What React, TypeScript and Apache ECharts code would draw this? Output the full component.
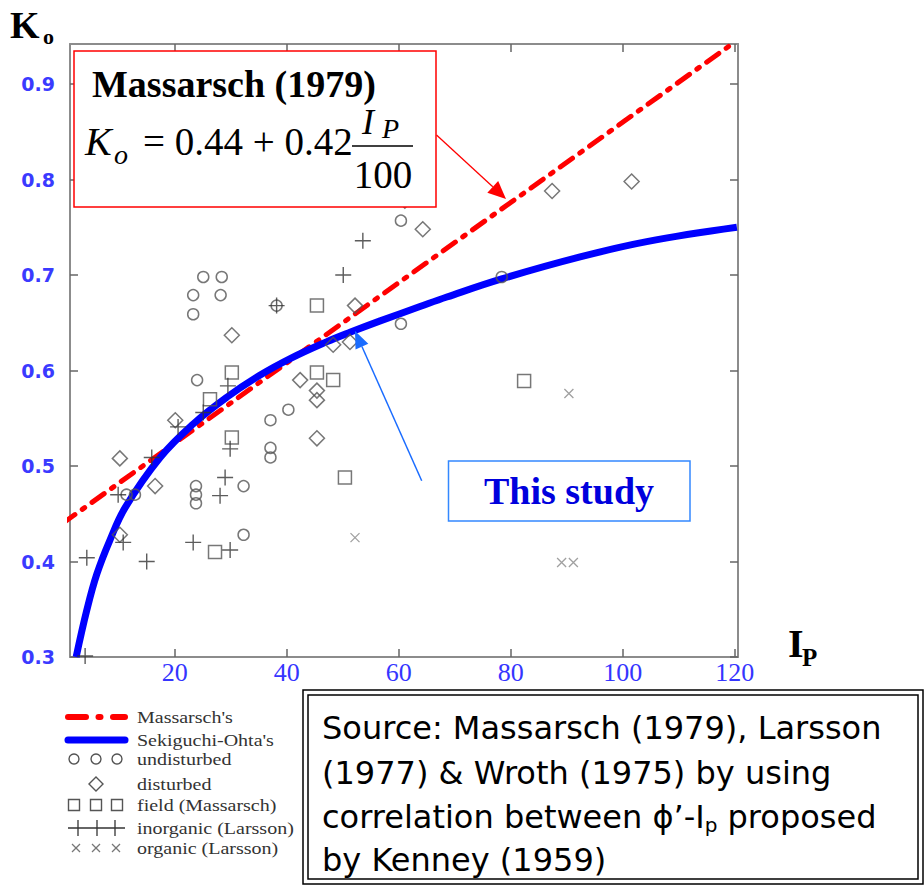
import React, { useEffect, useRef } from "react";
import * as echarts from "echarts";

// ---------- data (Ip, Ko) ----------
const xTicks = [20, 40, 60, 80, 100, 120];
const yTicks = [0.3, 0.4, 0.5, 0.6, 0.7, 0.8, 0.9];

// Massarsch (1979): Ko = 0.44 + 0.42 Ip/100 (straight line, two ends)
const massarsch = [
  [0, 0.44],
  [120, 0.944],
];

// Sekiguchi-Ohta curve ("This study")
const sekiguchiOhta = [
  [2.4, 0.3], [4.3, 0.349], [6.1, 0.387], [8.4, 0.422], [11.2, 0.457],
  [17.4, 0.509], [23.3, 0.544], [29.3, 0.572], [35.2, 0.595], [40.8, 0.613],
  [47.1, 0.63], [51.3, 0.64], [56.7, 0.652], [63.8, 0.667], [68.6, 0.677],
  [78.4, 0.696], [92.4, 0.719], [104.3, 0.735], [120.4, 0.75],
];

const undisturbed = [
  [25.1, 0.698], [28.4, 0.698], [23.3, 0.679], [28.2, 0.679], [23.3, 0.659],
  [38.2, 0.668], [60.4, 0.757], [60.4, 0.649], [78.4, 0.698], [24.0, 0.59],
  [40.3, 0.559], [37.1, 0.548], [37.1, 0.519], [37.1, 0.509], [23.8, 0.479],
  [23.8, 0.47], [23.8, 0.461], [32.3, 0.479], [32.3, 0.428], [11.4, 0.47],
  [12.9, 0.47],
];

const disturbed = [
  [30.2, 0.637], [52.2, 0.668], [48.3, 0.627], [51.3, 0.63], [61.1, 0.778],
  [64.3, 0.748], [87.4, 0.788], [101.6, 0.798], [42.4, 0.59], [45.4, 0.579],
  [45.4, 0.569], [45.4, 0.529], [20.1, 0.548], [10.2, 0.508], [16.5, 0.479],
  [10.2, 0.428],
];

const fieldMassarsch = [
  [45.4, 0.668], [30.2, 0.598], [26.3, 0.57], [30.2, 0.53], [45.4, 0.598],
  [48.3, 0.59], [50.4, 0.488], [27.2, 0.41], [82.4, 0.589],
];

const inorganicLarsson = [
  [53.6, 0.736], [50.1, 0.7], [38.2, 0.668], [29.5, 0.584], [25.1, 0.556],
  [20.6, 0.541], [15.9, 0.509], [29.9, 0.518], [29.0, 0.488], [28.1, 0.469],
  [9.9, 0.47], [10.8, 0.42], [23.3, 0.42], [29.9, 0.412], [4.3, 0.404],
  [15.0, 0.4], [4.0, 0.301],
];

const organicLarsson = [
  [52.2, 0.425], [90.4, 0.576], [89.1, 0.399], [91.2, 0.399],
];

const legendLabels = [
  "Massarsch's",
  "Sekiguchi-Ohta's",
  "undisturbed",
  "disturbed",
  "field (Massarsch)",
  "inorganic (Larsson)",
  "organic (Larsson)",
];

const sourceLines = [
  "Source: Massarsch (1979), Larsson",
  "(1977) & Wroth (1975) by using",
  "correlation between ϕ’-I{sub|p} proposed",
  "by Kenney (1959)",
];

// ---------- styling ----------
const SERIF = "'Liberation Serif', 'Times New Roman', serif";
const SANS = "'DejaVu Sans', Verdana, sans-serif";
const MARK = "#555";
const AXIS = "#8c8c8c";

function arrow(x1: number, y1: number, x2: number, y2: number, color: string, w: number, hl: number, hw: number) {
  const dx = x2 - x1, dy = y2 - y1;
  const L = Math.sqrt(dx * dx + dy * dy);
  const ux = dx / L, uy = dy / L;
  const bx = x2 - ux * hl, by = y2 - uy * hl;
  const px = -uy, py = ux;
  return [
    { type: "line", z: 100, shape: { x1, y1, x2: bx, y2: by }, style: { stroke: color, lineWidth: w } },
    {
      type: "polygon", z: 100,
      shape: { points: [[x2, y2], [bx + px * hw, by + py * hw], [bx - px * hw, by - py * hw]] },
      style: { fill: color },
    },
  ];
}

function txt(x: number, y: number, text: string, size: number, opts: any = {}) {
  const { weight, style, color, family, align, scaleX, rich } = opts;
  return {
    type: "text", z: 101, x, y, scaleX: scaleX || 1,
    style: {
      text, fontSize: size, fontFamily: family || SERIF, fontWeight: weight || "normal",
      fontStyle: style || "normal", fill: color || "#000", align: align || "left",
      verticalAlign: "middle", rich,
    },
  };
}

function legendGraphics() {
  const g: any[] = [];
  const ys = [717, 740, 759, 784, 805, 828, 848];
  const xs = [74, 96, 117];
  // Massarsch dash-dot
  g.push({ type: "line", z: 100, shape: { x1: 68, y1: ys[0], x2: 86, y2: ys[0] }, style: { stroke: "#ff0000", lineWidth: 6, lineCap: "round" } });
  g.push({ type: "line", z: 100, shape: { x1: 98.5, y1: ys[0], x2: 100.5, y2: ys[0] }, style: { stroke: "#ff0000", lineWidth: 6, lineCap: "round" } });
  g.push({ type: "line", z: 100, shape: { x1: 113, y1: ys[0], x2: 125, y2: ys[0] }, style: { stroke: "#ff0000", lineWidth: 6, lineCap: "round" } });
  // Sekiguchi-Ohta
  g.push({ type: "line", z: 100, shape: { x1: 68, y1: ys[1], x2: 125, y2: ys[1] }, style: { stroke: "#0000ff", lineWidth: 7, lineCap: "round" } });
  // circles
  xs.forEach((x) => g.push({ type: "circle", z: 100, shape: { cx: x, cy: ys[2], r: 5 }, style: { fill: "none", stroke: MARK, lineWidth: 1.4 } }));
  // diamond
  g.push({ type: "polygon", z: 100, shape: { points: [[96, ys[3] - 7], [103, ys[3]], [96, ys[3] + 7], [89, ys[3]]] }, style: { fill: "none", stroke: MARK, lineWidth: 1.4 } });
  // squares
  xs.forEach((x) => g.push({ type: "rect", z: 100, shape: { x: x - 5.5, y: ys[4] - 5.5, width: 11, height: 11 }, style: { fill: "none", stroke: MARK, lineWidth: 1.4 } }));
  // plus
  g.push({ type: "line", z: 100, shape: { x1: 68, y1: ys[5], x2: 125, y2: ys[5] }, style: { stroke: "#333", lineWidth: 1.3 } });
  [78, 97, 115].forEach((x) => g.push({ type: "line", z: 100, shape: { x1: x, y1: ys[5] - 8, x2: x, y2: ys[5] + 8 }, style: { stroke: "#333", lineWidth: 1.3 } }));
  // cross
  [76, 96, 116].forEach((x) => {
    g.push({ type: "line", z: 100, shape: { x1: x - 4, y1: ys[6] - 4, x2: x + 4, y2: ys[6] + 4 }, style: { stroke: "#777", lineWidth: 1.2 } });
    g.push({ type: "line", z: 100, shape: { x1: x + 4, y1: ys[6] - 4, x2: x - 4, y2: ys[6] + 4 }, style: { stroke: "#777", lineWidth: 1.2 } });
  });
  legendLabels.forEach((t, i) => g.push(txt(137, ys[i] + 1, t, 16, { color: "#333", scaleX: 1.25 })));
  return g;
}

function sourceGraphics() {
  const g: any[] = [];
  g.push({ type: "rect", z: 100, shape: { x: 303, y: 690, width: 620, height: 194 }, style: { fill: "#fff", stroke: "#000", lineWidth: 1.5 } });
  g.push({ type: "rect", z: 100, shape: { x: 308, y: 695, width: 610, height: 184 }, style: { fill: "none", stroke: "#000", lineWidth: 1.5 } });
  const ys = [728, 773, 817, 860];
  sourceLines.forEach((t, i) =>
    g.push(txt(322, ys[i], t, 32, { family: SANS, rich: { sub: { fontSize: 20, fontFamily: SANS, padding: [16, 0, 0, 0] } } }))
  );
  return g;
}

function annotationGraphics() {
  const g: any[] = [];
  // axis titles
  g.push(txt(10, 25, "K", 38, { weight: "bold" }));
  g.push(txt(43, 36, "o", 22, { weight: "bold" }));
  g.push(txt(788, 643, "I", 40, { weight: "bold" }));
  g.push(txt(802, 657, "P", 25, { weight: "bold" }));
  // Massarsch box
  g.push({ type: "rect", z: 100, shape: { x: 74, y: 51, width: 362, height: 156 }, style: { fill: "#fff", stroke: "#ff0000", lineWidth: 1.5 } });
  g.push(txt(92, 84, "Massarsch (1979)", 38, { weight: "bold" }));
  g.push(txt(85, 141, "K", 40, { style: "italic" }));
  g.push(txt(114, 154, "o", 28, { style: "italic" }));
  g.push(txt(143, 141, "= 0.44 + 0.42", 39));
  g.push(txt(362, 122, "I", 36, { style: "italic" }));
  g.push(txt(382, 128, "P", 28, { style: "italic" }));
  g.push({ type: "line", z: 100, shape: { x1: 352, y1: 146, x2: 413, y2: 146 }, style: { stroke: "#000", lineWidth: 1.5 } });
  g.push(txt(383, 174, "100", 39, { align: "center" }));
  g.push(...arrow(436.5, 135, 506, 199, "#ff0000", 1.3, 18, 8));
  // This study box
  g.push({ type: "rect", z: 100, shape: { x: 448.5, y: 461, width: 241.5, height: 60 }, style: { fill: "#fff", stroke: "#3388ff", lineWidth: 1.5 } });
  g.push(txt(569, 491, "This study", 38, { weight: "bold", color: "#0000dd", align: "center" }));
  g.push(...arrow(421.7, 480.7, 355, 331, "#1a6cff", 1.5, 17, 7));
  return g;
}

export default function App() {
  const ref = useRef<HTMLDivElement>(null);
  useEffect(() => {
    document.body.style.margin = "0";
    const chart = echarts.init(ref.current!, null, { renderer: "svg" });
    const xMin = 1.3, xMax = 120.6, yMin = 0.3, yMax = 0.942;
    const axisLine = { show: true, onZero: false, lineStyle: { color: AXIS, width: 2 } };
    const scatter = (data: number[][], symbol: string, size: any, color: string, bw: number) => ({
      type: "scatter", data, symbol, symbolSize: size, silent: true, z: 4,
      itemStyle: { color: "transparent", borderColor: color, borderWidth: bw },
    });
    chart.setOption({
      animation: false,
      backgroundColor: "#fff",
      grid: { left: 70, top: 44, width: 668, height: 613 },
      xAxis: [
        {
          type: "value", min: xMin, max: xMax, position: "bottom", axisLine,
          axisTick: { show: true, inside: true, length: 8, customValues: xTicks, lineStyle: { color: "#666", width: 1.5 } },
          axisLabel: { customValues: xTicks, color: "#3535ff", fontFamily: SERIF, fontSize: 26, margin: 2 },
          splitLine: { show: false },
        },
        {
          type: "value", min: xMin, max: xMax, position: "top", axisLine,
          axisTick: { show: true, inside: true, length: 8, customValues: xTicks, lineStyle: { color: "#666", width: 1.5 } },
          axisLabel: { show: false }, splitLine: { show: false },
        },
      ],
      yAxis: [
        {
          type: "value", min: yMin, max: yMax, position: "left", axisLine,
          axisTick: { show: true, inside: true, length: 8, customValues: yTicks, lineStyle: { color: "#666", width: 1.5 } },
          axisLabel: {
            customValues: yTicks, color: "#3a3aff", fontFamily: SANS, fontWeight: "bold", fontSize: 19, margin: 15,
            formatter: (v: number) => v.toFixed(1),
          },
          splitLine: { show: false },
        },
        {
          type: "value", min: yMin, max: yMax, position: "right", axisLine,
          axisTick: { show: true, inside: true, length: 8, customValues: yTicks, lineStyle: { color: "#666", width: 1.5 } },
          axisLabel: { show: false }, splitLine: { show: false },
        },
      ],
      series: [
        scatter(undisturbed, "circle", 11, MARK, 1.5),
        scatter(disturbed, "diamond", 15, MARK, 1.5),
        scatter(fieldMassarsch, "rect", 13, MARK, 1.5),
        scatter(inorganicLarsson, "path://M0,6L12,6M6,0L6,12", 16, "#333", 1.4),
        scatter(organicLarsson, "path://M0,0L10,10M10,0L0,10", 9, "#888", 1.3),
        {
          type: "line", data: massarsch, showSymbol: false, silent: true, z: 3, clip: true,
          lineStyle: { color: "#ff0000", width: 5, type: [15, 9, 3, 9], cap: "round" },
        },
        {
          type: "line", data: sekiguchiOhta, showSymbol: false, silent: true, z: 3, smooth: 0.4, clip: true,
          lineStyle: { color: "#0000ff", width: 7 },
        },
      ],
      graphic: [...annotationGraphics(), ...legendGraphics(), ...sourceGraphics()],
    });
    return () => chart.dispose();
  }, []);
  return <div ref={ref} style={{ width: 924, height: 885 }} />;
}
